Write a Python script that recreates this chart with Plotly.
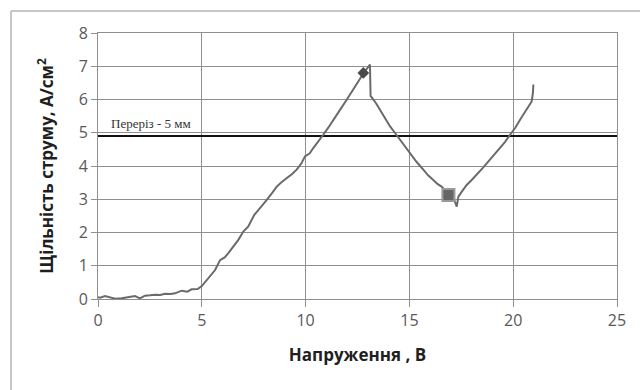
import plotly.graph_objects as go

# Data
voltage = [0.0, 0.1, 0.34, 0.58, 0.82, 1.14, 1.46, 1.78, 2.02, 2.26, 2.5, 2.75, 3.0, 3.23, 3.5,
           3.71, 4.03, 4.3, 4.51, 4.8, 5.0, 5.31, 5.64, 5.88, 6.1, 6.28, 6.52, 6.76, 7.0, 7.24,
           7.53, 7.8, 8.13, 8.4, 8.61, 8.85, 9.09, 9.35, 9.57, 9.8, 9.97, 10.2, 10.37, 10.6,
           10.85, 11.1, 11.33, 11.65, 11.98, 12.2, 12.46, 12.65, 12.85, 13.05, 13.1, 13.13,
           13.18, 13.4, 13.58, 13.8, 14.07, 14.3, 14.55, 14.8, 15.03, 15.35, 15.67, 15.9,
           16.15, 16.35, 16.55, 16.75, 16.95, 17.15, 17.28, 17.36, 17.55, 17.76, 18.0, 18.24,
           18.55, 18.88, 19.1, 19.36, 19.6, 19.85, 20.1, 20.33, 20.6, 20.89, 20.95, 20.97]
current = [0.05, 0.04, 0.09, 0.06, 0.01, 0.02, 0.05, 0.09, 0.02, 0.1, 0.11, 0.13, 0.12, 0.16, 0.15,
           0.17, 0.25, 0.22, 0.29, 0.3, 0.39, 0.62, 0.87, 1.17, 1.25, 1.38, 1.58, 1.78, 2.03, 2.18,
           2.53, 2.72, 2.98, 3.2, 3.38, 3.52, 3.63, 3.76, 3.89, 4.08, 4.29, 4.38, 4.54, 4.72,
           4.94, 5.16, 5.39, 5.68, 5.99, 6.2, 6.45, 6.66, 6.85, 7.0, 7.05, 6.1,
           6.07, 5.88, 5.69, 5.45, 5.19, 5.0, 4.79, 4.6, 4.39, 4.12, 3.89, 3.72,
           3.58, 3.46, 3.38, 3.26, 3.14, 3.0, 2.78, 3.08, 3.25, 3.43, 3.58, 3.73,
           3.95, 4.19, 4.35, 4.54, 4.72, 4.94, 5.15, 5.39, 5.65, 5.94, 6.2, 6.45]

peak_x = [12.78]
peak_y = [6.8]
min_x = [16.88]
min_y = [3.13]

section_x = [0, 25]
section_y = [4.9, 4.9]
section_label = "Переріз - 5 мм"

x_ticks = [0, 5, 10, 15, 20, 25]
y_ticks = [0, 1, 2, 3, 4, 5, 6, 7, 8]

grid = "#8f8f8f"
tick_font = dict(family="Open Sans, sans-serif", size=16, color="#595959")
title_font = dict(family="Open Sans, sans-serif", size=17, color="#1f1f1f")

fig = go.Figure()
fig.add_trace(go.Scatter(x=section_x, y=section_y, mode="lines",
                         line=dict(color="#111111", width=2), showlegend=False, hoverinfo="skip"))
fig.add_trace(go.Scatter(x=voltage, y=current, mode="lines",
                         line=dict(color="#6a6a6a", width=2), showlegend=False))
fig.add_trace(go.Scatter(x=peak_x, y=peak_y, mode="markers",
                         marker=dict(symbol="diamond", size=9, color="#4a4a4a"), showlegend=False))
fig.add_trace(go.Scatter(x=min_x, y=min_y, mode="markers",
                         marker=dict(symbol="square", size=12, color="#666666",
                                     line=dict(color="#9a9a9a", width=2)), showlegend=False))

fig.add_annotation(x=0.55, y=4.98, text=section_label, showarrow=False,
                   xanchor="left", yanchor="bottom",
                   font=dict(family="Liberation Serif, Times New Roman, serif", size=13, color="#333333"))

# outer chart border: only top and left edges are visible in the view
border = dict(color="#b5b5b5", width=1.5)
fig.add_shape(type="line", xref="paper", yref="paper", x0=-0.1676, y0=1.0827, x1=1.2, y1=1.0827,
              line=border, layer="below")
fig.add_shape(type="line", xref="paper", yref="paper", x0=-0.1676, y0=-0.5, x1=-0.1676, y1=1.0827,
              line=border, layer="below")

fig.update_layout(
    width=640, height=390,
    margin=dict(l=98, r=23, t=33, b=91),
    paper_bgcolor="white", plot_bgcolor="white",
    showlegend=False,
    xaxis=dict(range=[0, 25], tickvals=x_ticks, showgrid=True, gridcolor=grid, gridwidth=1,
               showline=True, linecolor=grid, linewidth=1, mirror=True, zeroline=False,
               ticks="outside", ticklen=7, tickcolor=grid, tickfont=tick_font,
               title=dict(text="<b>Напруження , В</b>", font=title_font, standoff=18)),
    yaxis=dict(range=[0, 8], tickvals=y_ticks, showgrid=True, gridcolor=grid, gridwidth=1,
               showline=True, linecolor=grid, linewidth=1, mirror=True, zeroline=False,
               ticks="outside", ticklen=6, tickcolor=grid, tickfont=tick_font,
               title=dict(text="<b>Щільність струму, А/см<sup>2</sup></b>", font=title_font, standoff=20)),
)

fig.write_html("out.html")
